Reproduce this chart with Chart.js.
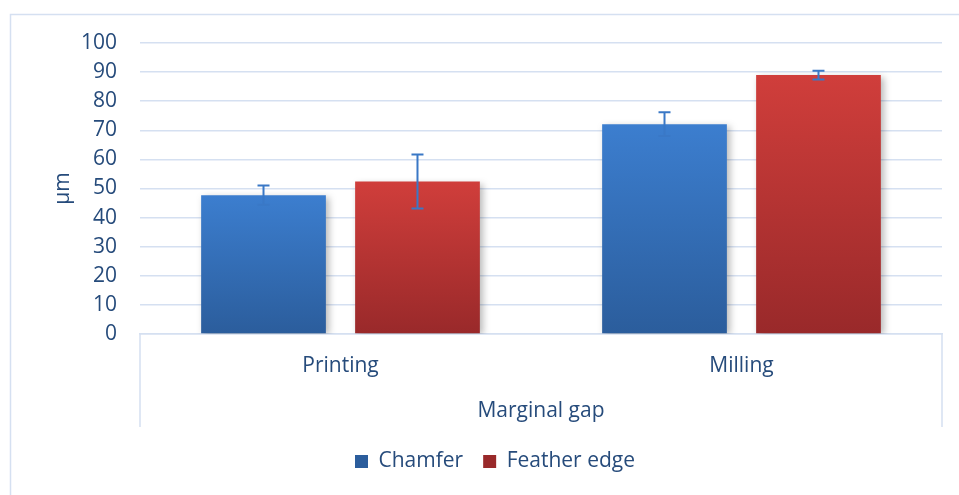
<!DOCTYPE html>
<html>
<head>
<meta charset="utf-8">
<script src="https://cdn.jsdelivr.net/npm/chart.js@4"></script>
<style>
  html, body { margin: 0; padding: 0; background: #fff; }
  #wrap { width: 959px; height: 495px; }
</style>
</head>
<body>
<div id="wrap"><canvas id="gap"></canvas></div>
<script>
// data
const categories = ['Printing', 'Milling'];
const seriesNames = ['Chamfer', 'Feather edge'];
const chamferMean = [47.7, 72.1];
const chamferSd = [3.3, 4.1];
const featherMean = [52.4, 89.0];
const featherSd = [9.3, 1.5];
const yTicks = [0, 10, 20, 30, 40, 50, 60, 70, 80, 90, 100];

const textColor = '#264b7b';
const lineColor = '#d5e0f1';
const errColor = '#3a78c6';

// colours for each series: top, bottom of gradient
const fills = [
    ['#3c7ecf', '#2b5d9c'],
    ['#d03e3b', '#99292a']
];

// gradient per bar, from its top down to the zero line
const barFill = (i) => (c) => {
    const chart = c.chart;
    if (!chart.chartArea || c.raw === undefined) return fills[i][0];
    const y = chart.scales.y;
    const g = chart.ctx.createLinearGradient(0, y.getPixelForValue(c.raw), 0, y.getPixelForValue(0));
    g.addColorStop(0, fills[i][0]);
    g.addColorStop(1, fills[i][1]);
    return g;
};

// frame, lines under the axis, shadows and error bars
const extras = {
    id: 'extras',
    beforeDraw(chart) {
        const {ctx, chartArea} = chart;
        ctx.save();
        ctx.strokeStyle = lineColor;
        ctx.lineWidth = 1.5;
        ctx.strokeRect(10.5, 14.5, 1200, 1200);
        // side lines of the category box
        ctx.beginPath();
        ctx.moveTo(chartArea.left, chartArea.bottom);
        ctx.lineTo(chartArea.left, chartArea.bottom + 93);
        ctx.moveTo(chartArea.right, chartArea.bottom);
        ctx.lineTo(chartArea.right, chartArea.bottom + 93);
        ctx.stroke();
        ctx.restore();
    },
    beforeDatasetsDraw(chart) {
        const ctx = chart.ctx;
        ctx.save();
        ctx.shadowColor = 'rgba(0,0,0,0.28)';
        ctx.shadowBlur = 7;
        ctx.shadowOffsetX = 3;
        ctx.shadowOffsetY = 2;
    },
    afterDatasetsDraw(chart) {
        const ctx = chart.ctx;
        ctx.restore();
        const y = chart.scales.y;
        const sds = [chamferSd, featherSd];
        ctx.save();
        ctx.strokeStyle = errColor;
        ctx.lineWidth = 2;
        chart.data.datasets.forEach((ds, di) => {
            const meta = chart.getDatasetMeta(di);
            meta.data.forEach((bar, i) => {
                const v = ds.data[i];
                const hi = y.getPixelForValue(v + sds[di][i]);
                const lo = y.getPixelForValue(v - sds[di][i]);
                ctx.beginPath();
                ctx.moveTo(bar.x, hi);
                ctx.lineTo(bar.x, lo);
                ctx.moveTo(bar.x - 6, hi);
                ctx.lineTo(bar.x + 6, hi);
                ctx.moveTo(bar.x - 6, lo);
                ctx.lineTo(bar.x + 6, lo);
                ctx.stroke();
            });
        });
        ctx.restore();
    }
};

Chart.defaults.font.family = '"Open Sans", "Noto Sans", sans-serif';
Chart.defaults.color = textColor;

const chart = new Chart(document.querySelector('#gap'), {
    type: 'bar',
    data: {
        labels: categories,
        datasets: [{
            label: seriesNames[0],
            data: chamferMean,
            backgroundColor: barFill(0),
            categoryPercentage: 0.768,
            barPercentage: 0.81
        }, {
            label: seriesNames[1],
            data: featherMean,
            backgroundColor: barFill(1),
            categoryPercentage: 0.768,
            barPercentage: 0.81
        }]
    },
    options: {
        responsive: true,
        maintainAspectRatio: false,
        animation: false,
        layout: {
            padding: {left: 48, right: 17, top: 43, bottom: 13}
        },
        plugins: {
            tooltip: {enabled: false},
            legend: {
                position: 'bottom',
                labels: {
                    boxWidth: 13,
                    boxHeight: 13,
                    padding: 20,
                    color: textColor,
                    font: {size: 21}
                }
            }
        },
        scales: {
            x: {
                afterFit(scale) { scale.height = 97; },
                grid: {display: false},
                border: {color: lineColor, width: 1.5},
                ticks: {padding: 11, font: {size: 21}, color: textColor},
                title: {
                    display: true,
                    text: 'Marginal gap',
                    color: textColor,
                    font: {size: 21},
                    padding: {top: 22, bottom: 7}
                }
            },
            y: {
                min: 0,
                max: 100,
                afterFit(scale) { scale.width = 92; },
                afterBuildTicks(scale) { scale.ticks = yTicks.map(v => ({value: v})); },
                grid: {color: lineColor, lineWidth: 1.5, drawTicks: false},
                border: {display: false},
                ticks: {padding: 23, autoSkip: false, font: {size: 21}, color: textColor},
                title: {
                    display: true,
                    text: 'μm',
                    color: textColor,
                    font: {size: 21},
                    padding: {top: 2, bottom: 0}
                }
            }
        }
    },
    plugins: [extras]
});
</script>
</body>
</html>
